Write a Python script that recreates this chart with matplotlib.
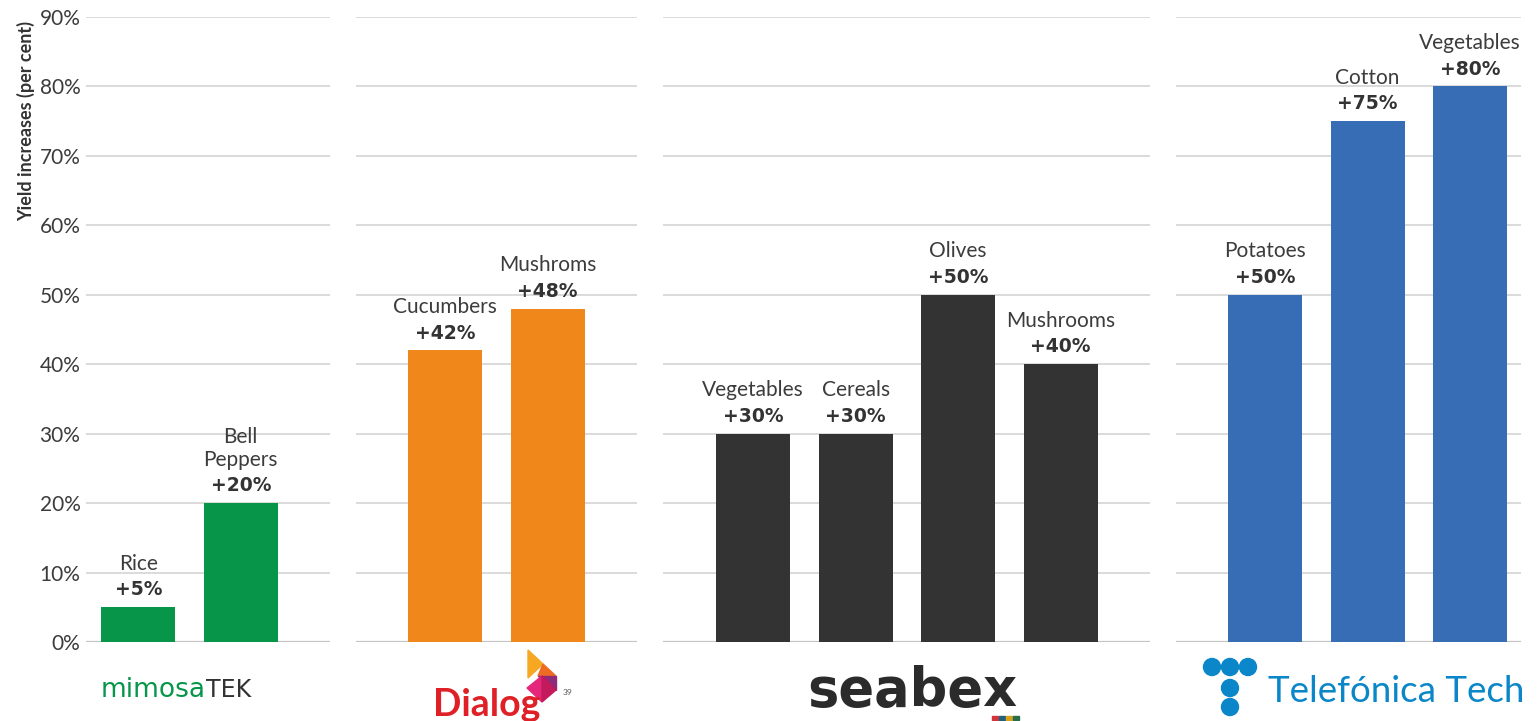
import matplotlib
matplotlib.use("Agg")
import matplotlib.pyplot as plt
import matplotlib.patches as mpatches
import numpy as np

plt.rcParams["font.family"] = ["Lato", "DejaVu Sans"]

# data
providers = ["mimosaTEK", "Dialog", "seabex", "Telefónica Tech"]
crops = [
    ["Rice", "Bell\nPeppers"],
    ["Cucumbers", "Mushroms"],
    ["Vegetables", "Cereals", "Olives", "Mushrooms"],
    ["Potatoes", "Cotton", "Vegetables"],
]
yields = [
    [5, 20],
    [42, 48],
    [30, 30, 50, 40],
    [50, 75, 80],
]
colors = ["#07954a", "#f0871a", "#333333", "#376db5"]
y_ticks = [0, 10, 20, 30, 40, 50, 60, 70, 80, 90]

W, H = 1540, 721
fig = plt.figure(figsize=(W / 100, H / 100), dpi=100)

# panel layout in pixels: left edge, x limits (units of bar spacing)
unit = 102.5
panel_left = [86, 356, 663, 1176]
panel_xlim = [(-0.51, 1.87), (-0.87, 1.87), (-0.88, 3.87), (-0.87, 2.5)]
y_bottom, y_top = 642, 17

axes = []
for i in range(4):
    lo, hi = panel_xlim[i]
    wpx = (hi - lo) * unit
    ax = fig.add_axes([panel_left[i] / W, 1 - y_bottom / H, wpx / W, (y_bottom - y_top) / H])
    ax.set_xlim(lo, hi)
    ax.set_ylim(0, 90)
    ax.set_yticks(y_ticks)
    ax.yaxis.grid(True, color="#d4d4d4", linewidth=1.2)
    ax.set_axisbelow(True)
    ax.axhline(0, color="#c4c4c4", linewidth=1.6, zorder=1)
    for s in ax.spines.values():
        s.set_visible(False)
    ax.set_xticks([])
    ax.tick_params(axis="y", length=0, pad=4)
    if i == 0:
        ax.set_yticklabels([f"{v}%" for v in y_ticks], fontsize=15, color="#3c3c3c")
        ax.set_ylabel("Yield increases (per cent)", fontsize=13, fontweight="bold",
                      color="#333333")
        ax.yaxis.set_label_coords(-0.21, 0.834)
    else:
        ax.set_yticklabels([])

    x = np.arange(len(yields[i]))
    ax.bar(x, yields[i], width=0.72, color=colors[i], zorder=2)
    for xi, v, name in zip(x, yields[i], crops[i]):
        ax.annotate(f"+{v}%", (xi, v), xytext=(0, 8.5), textcoords="offset points",
                    ha="center", va="baseline", fontsize=13.5, fontweight="bold",
                    color="#333333", family=["DejaVu Sans"])
        ax.annotate(name, (xi, v), xytext=(0, 27), textcoords="offset points",
                    ha="center", va="baseline", fontsize=15, color="#3c3c3c",
                    linespacing=1.15)
    axes.append(ax)


def fx(px):
    return px / W


def fy(py):
    return 1 - py / H


# logos (approximated)
t1 = fig.text(fx(101), fy(697), "mimosa", fontsize=19, color="#07954a",
              family=["DejaVu Sans"], ha="left", va="baseline")
fig.canvas.draw()
bb = t1.get_window_extent()
fig.text(bb.x1 / W, fy(697), "TEK", fontsize=17, color="#333333",
         family=["DejaVu Sans"], ha="left", va="baseline")

fig.text(fx(433), fy(716), "Dialog", fontsize=27, color="#e02027", fontweight="bold",
         family=["Liberation Sans Narrow", "Lato"], ha="left", va="baseline")
fig.text(fx(563), fy(695), "39", fontsize=6, color="#555555", ha="left", va="baseline")
tri = [
    ([(528, 650), (543, 664), (528, 678)], "#f7a823"),
    ([(543, 664), (556, 676), (538, 676)], "#ee6b24"),
    ([(538, 676), (556, 676), (556, 690)], "#8e2c7a"),
    ([(527, 688), (542, 676), (542, 702)], "#e4277b"),
    ([(542, 676), (556, 690), (542, 702)], "#c3195d"),
]
for pts, c in tri:
    fig.patches.append(mpatches.Polygon([(fx(a), fy(b)) for a, b in pts], closed=True,
                                        color=c, transform=fig.transFigure, figure=fig))

fig.text(fx(912), fy(706), "seabex", fontsize=38, color="#2b2b2b", fontweight="bold",
         family=["DejaVu Sans"], ha="center", va="baseline")
for k, c in enumerate(["#d3343a", "#21627a", "#d8a31c", "#2a6d4a"]):
    fig.patches.append(mpatches.Rectangle((fx(992 + k * 7), fy(720)), 6 / W, 4 / H,
                                          color=c, transform=fig.transFigure, figure=fig))

for cx, cy in [(1212, 667), (1230, 667), (1248, 667), (1230, 688), (1230, 707)]:
    fig.patches.append(mpatches.Ellipse((fx(cx), fy(cy)), 17 / W, 17 / H,
                                        color="#0b87c9", transform=fig.transFigure, figure=fig))
fig.text(fx(1268), fy(702), "Telefónica Tech", fontsize=26.5, color="#0b87c9",
         ha="left", va="baseline")

fig.savefig("out.png", dpi=100)
